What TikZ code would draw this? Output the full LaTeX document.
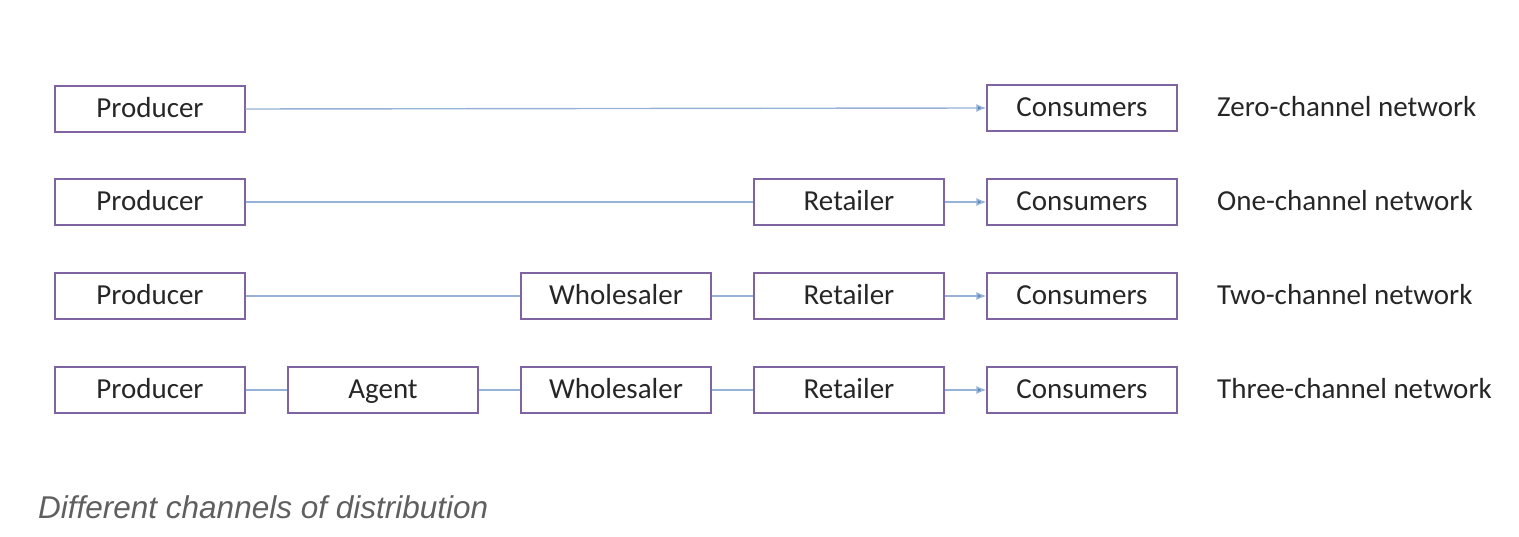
\documentclass[tikz,border=0pt]{standalone}
\usepackage{fontspec}
\setmainfont{Carlito}
\newfontfamily\capfont{Liberation Sans}
\usetikzlibrary{arrows.meta}
\definecolor{boxpurple}{RGB}{128,100,162}
\definecolor{linkblue}{RGB}{150,178,214}
\definecolor{tipblue}{RGB}{79,129,189}
\definecolor{capgray}{RGB}{95,95,95}
\tikzset{
  chbox/.style={draw=boxpurple, line width=1.3pt, minimum width=190pt, minimum height=46pt,
    inner sep=0pt, text height=21pt, text depth=3pt, font=\fontsize{29}{33}\selectfont, text=black!85},
  link/.style={draw=linkblue, line width=1.4pt},
  arrlink/.style={link, -{Latex[length=10pt,width=8pt,fill=tipblue]}},
  netlabel/.style={anchor=west, inner sep=0pt, text height=21pt, text depth=3pt, font=\fontsize{29}{33}\selectfont, text=black!85},
}
\begin{document}
\begin{tikzpicture}[x=1pt,y=-1pt]
\useasboundingbox (0,0) rectangle (1519,537);
% row 1
\node[chbox] (p1) at (150,109) {Producer};
\node[chbox] (c1) at (1082,108) {Consumers};
\node[netlabel] (l1) at (1217,108) {Zero-channel network};
\draw[arrlink] (p1.east) -- (c1.west);
% row 2
\node[chbox] (p2) at (150,202) {Producer};
\node[chbox] (r2) at (849,202) {Retailer};
\node[chbox] (c2) at (1082,202) {Consumers};
\node[netlabel] (l2) at (1217,202) {One-channel network};
\draw[link] (p2.east) -- (r2.west);
\draw[arrlink] (r2.east) -- (c2.west);
% row 3
\node[chbox] (p3) at (150,296) {Producer};
\node[chbox] (w3) at (616,296) {Wholesaler};
\node[chbox] (r3) at (849,296) {Retailer};
\node[chbox] (c3) at (1082,296) {Consumers};
\node[netlabel] (l3) at (1217,296) {Two-channel network};
\draw[link] (p3.east) -- (w3.west);
\draw[link] (w3.east) -- (r3.west);
\draw[arrlink] (r3.east) -- (c3.west);
% row 4
\node[chbox] (p4) at (150,390) {Producer};
\node[chbox] (a4) at (383,390) {Agent};
\node[chbox] (w4) at (616,390) {Wholesaler};
\node[chbox] (r4) at (849,390) {Retailer};
\node[chbox] (c4) at (1082,390) {Consumers};
\node[netlabel] (l4) at (1217,390) {Three-channel network};
\draw[link] (p4.east) -- (a4.west);
\draw[link] (a4.east) -- (w4.west);
\draw[link] (w4.east) -- (r4.west);
\draw[arrlink] (r4.east) -- (c4.west);
% caption
\node[anchor=base west, inner sep=0pt, text=capgray, font=\capfont\itshape\fontsize{31.5}{36}\selectfont] (cap) at (38,518) {Different channels of distribution};
\end{tikzpicture}
\end{document}
